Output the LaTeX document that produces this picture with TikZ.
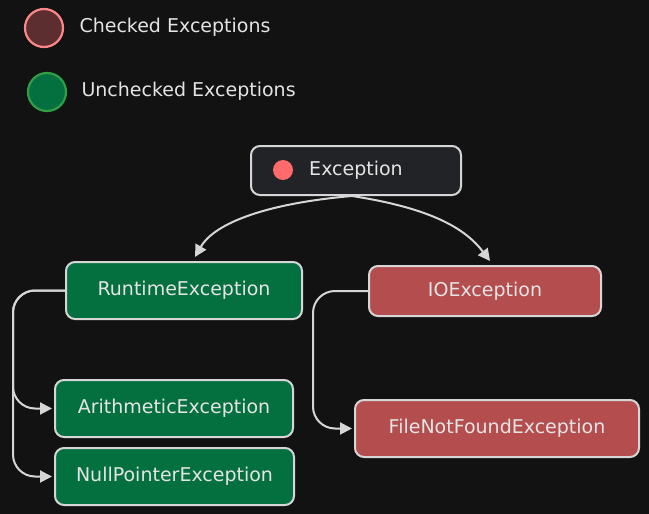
\documentclass[tikz,border=0pt]{standalone}
\usepackage{fontspec}
\setmainfont{DejaVu Sans}
\usetikzlibrary{arrows.meta}

\definecolor{bgdark}{HTML}{121212}
\definecolor{inkgray}{HTML}{D6D6D6}
\definecolor{txtgray}{HTML}{E4E4E4}
\definecolor{unchk}{HTML}{05703F}
\definecolor{unchkedge}{HTML}{2F9E44}
\definecolor{chk}{HTML}{B44E4E}
\definecolor{chkdark}{HTML}{5C2E30}
\definecolor{chkedge}{HTML}{FF8787}
\definecolor{rootfill}{HTML}{222327}
\definecolor{dotred}{HTML}{FF6B6B}

\begin{document}
\begin{tikzpicture}[x=1pt,y=-1pt,
  every node/.style={font=\fontsize{19}{22}\selectfont,text=txtgray},
  excbox/.style={draw=inkgray,line width=2pt,rounded corners=9pt,inner sep=0pt},
  legdot/.style={circle,line width=2.2pt,minimum size=38pt,inner sep=0pt},
  conn/.style={draw=inkgray,line width=2pt,-{Triangle[length=12pt,width=12pt]}}]

\fill[bgdark] (0,0) rectangle (649,514);
\useasboundingbox (0,0) rectangle (649,514);

\node[legdot,draw=chkedge,fill=chkdark] (legchk) at (44,28) {};
\node[anchor=west] (legchktxt) at (76,27) {Checked Exceptions};
\node[legdot,draw=unchkedge,fill=unchk] (legunchk) at (47,92) {};
\node[anchor=west] (legunchktxt) at (78,91) {Unchecked Exceptions};

\node[excbox,fill=rootfill,minimum width=210pt,minimum height=49pt] (exc) at (356,170.5) {Exception};
\node[circle,fill=dotred,minimum size=20pt,inner sep=0pt] (excdot) at (283,170) {};

\node[excbox,fill=unchk,minimum width=236pt,minimum height=57pt] (rte) at (184,290.5) {RuntimeException};
\node[excbox,fill=chk,minimum width=232pt,minimum height=50pt] (ioe) at (485,291) {IOException};
\node[excbox,fill=unchk,minimum width=238pt,minimum height=57pt] (are) at (174,408.5) {ArithmeticException};
\node[excbox,fill=unchk,minimum width=239pt,minimum height=57pt] (npe) at (174.5,476.5) {NullPointerException};
\node[excbox,fill=chk,minimum width=284pt,minimum height=57pt] (fnf) at (497,428.5) {FileNotFoundException};

\coordinate (rbus) at (13,0);
\coordinate (ibus) at (313,0);

\draw[conn] ([xshift=-4pt]exc.south) .. controls (270,203) and (215,222) .. ([xshift=11pt,yshift=4pt]rte.north);
\draw[conn] ([xshift=-4pt]exc.south) .. controls (430,208) and (465,228) .. ([xshift=5pt,yshift=4pt]ioe.north);

\draw[conn,rounded corners=22pt] (rte.west) -| (rbus |- are.west) -- ([xshift=-2pt]are.west);
\draw[conn,rounded corners=22pt] (rte.west) -| (rbus |- npe.west) -- ([xshift=-2pt]npe.west);
\draw[conn,rounded corners=22pt] (ioe.west) -| (ibus |- fnf.west) -- ([xshift=-2pt]fnf.west);

\end{tikzpicture}
\end{document}
